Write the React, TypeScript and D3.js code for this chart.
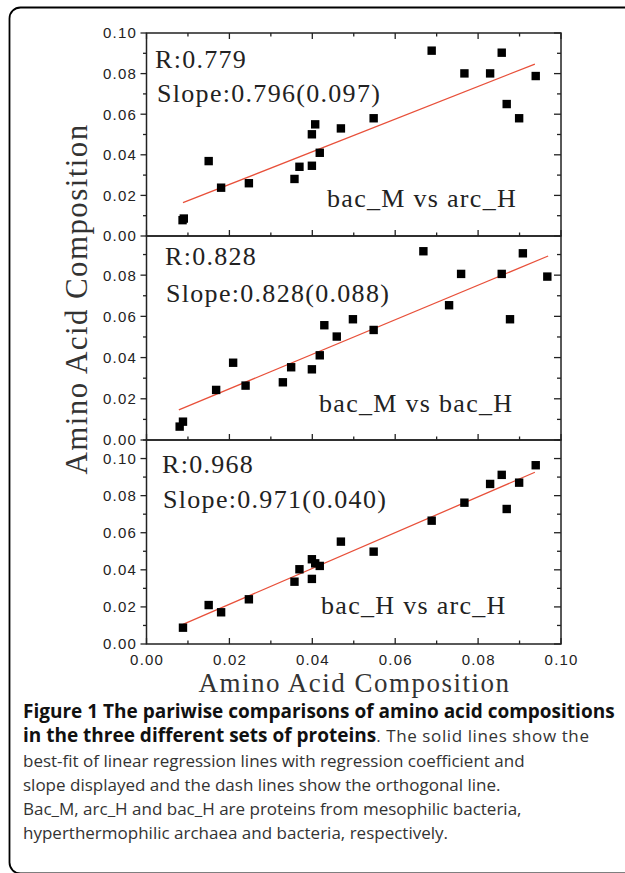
import React from "react";
import * as d3 from "d3";

// ---------- data ----------
const xTickValues = [0, 0.02, 0.04, 0.06, 0.08, 0.1];
const xTickLabels = ["0.00", "0.02", "0.04", "0.06", "0.08", "0.10"];
const xMinorValues = [0.01, 0.03, 0.05, 0.07, 0.09];

// Panel 1: bac_M vs arc_H
const p1X = [0.0087, 0.009, 0.015, 0.018, 0.0247, 0.0357, 0.0369, 0.0399, 0.0399, 0.0407, 0.0418, 0.0469, 0.0548, 0.0688, 0.0767, 0.0829, 0.0857, 0.0869, 0.0899, 0.0939];
const p1Y = [0.0078, 0.0086, 0.0369, 0.0238, 0.026, 0.0281, 0.0341, 0.0346, 0.0501, 0.055, 0.041, 0.053, 0.058, 0.0913, 0.0801, 0.0801, 0.0903, 0.065, 0.058, 0.0788];
const p1FitX = [0.0088, 0.0937];
const p1FitY = [0.0164, 0.0847];
const p1YTicks = [0, 0.02, 0.04, 0.06, 0.08, 0.1];
const p1YLabels = ["0.00", "0.02", "0.04", "0.06", "0.08", "0.10"];

// Panel 2: bac_M vs bac_H
const p2X = [0.008, 0.0088, 0.0168, 0.0209, 0.0239, 0.0329, 0.0349, 0.0399, 0.0418, 0.0429, 0.0459, 0.0498, 0.0548, 0.0668, 0.073, 0.0759, 0.0857, 0.0877, 0.0908, 0.0967];
const p2Y = [0.0065, 0.0089, 0.0243, 0.0375, 0.0264, 0.028, 0.0353, 0.0343, 0.0411, 0.0557, 0.0502, 0.0586, 0.0534, 0.0916, 0.0654, 0.0806, 0.0806, 0.0586, 0.0906, 0.0793];
const p2FitX = [0.0078, 0.0969];
const p2FitY = [0.0146, 0.0893];
const p2YTicks = [0, 0.02, 0.04, 0.06, 0.08];
const p2YLabels = ["0.00", "0.02", "0.04", "0.06", "0.08"];

// Panel 3: bac_H vs arc_H
const p3X = [0.0088, 0.015, 0.018, 0.0247, 0.0357, 0.0369, 0.0399, 0.0399, 0.0407, 0.0418, 0.0469, 0.0548, 0.0688, 0.0767, 0.0829, 0.0857, 0.0869, 0.0899, 0.0939];
const p3Y = [0.0088, 0.021, 0.0171, 0.0241, 0.0336, 0.0403, 0.0457, 0.0351, 0.0435, 0.0421, 0.0552, 0.0498, 0.0665, 0.0762, 0.0863, 0.0912, 0.0728, 0.087, 0.0964];
const p3FitX = [0.0088, 0.0937];
const p3FitY = [0.0106, 0.0926];
const p3YTicks = [0, 0.02, 0.04, 0.06, 0.08, 0.1];
const p3YLabels = ["0.00", "0.02", "0.04", "0.06", "0.08", "0.10"];

const rTexts = ["R:0.779", "R:0.828", "R:0.968"];
const slopeTexts = ["Slope:0.796(0.097)", "Slope:0.828(0.088)", "Slope:0.971(0.040)"];
const pairLabels = ["bac_M vs arc_H", "bac_M vs bac_H", "bac_H vs arc_H"];
const yMaxes = [0.1, 0.099, 0.11];

const axisTitle = "Amino Acid Composition";

// ---------- layout ----------
const W = 625;
const H = 873;
const LEFT = 146.5;
const RIGHT = 561;
const TOPS = [33, 236, 440];
const BOTTOMS = [236, 440, 644];
const TEXT_POS = [
  { rx: 155, ry: 68, sx: 157, sy: 102, lx: 327, ly: 207 },
  { rx: 165, ry: 265, sx: 166, sy: 302, lx: 319, ly: 412 },
  { rx: 162, ry: 473, sx: 163, sy: 508, lx: 321, ly: 614 },
];

const panels = [
  { xs: p1X, ys: p1Y, fx: p1FitX, fy: p1FitY, yt: p1YTicks, yl: p1YLabels },
  { xs: p2X, ys: p2Y, fx: p2FitX, fy: p2FitY, yt: p2YTicks, yl: p2YLabels },
  { xs: p3X, ys: p3Y, fx: p3FitX, fy: p3FitY, yt: p3YTicks, yl: p3YLabels },
];

const serif = "'Liberation Serif', 'Times New Roman', serif";
const sans = "'Liberation Sans', Arial, sans-serif";
const cap = "'Open Sans', 'Noto Sans', sans-serif";

const x = d3.scaleLinear().domain([0, 0.1]).range([LEFT, RIGHT]);

function Panel({ i }: { i: number }) {
  const p = panels[i];
  const y = d3.scaleLinear().domain([0, yMaxes[i]]).range([BOTTOMS[i], TOPS[i]]);
  const line = d3
    .line<number>()
    .x((d) => x(d))
    .y((_, k) => y(p.fy[k]));
  const yMinor = d3.range(0.01, yMaxes[i] + 1e-9, 0.02);
  const yMajor = d3.range(0, yMaxes[i] + 1e-9, 0.02);
  const t = TEXT_POS[i];
  const axisColor = "#222";
  return (
    <g>
      <rect x={LEFT} y={TOPS[i]} width={RIGHT - LEFT} height={BOTTOMS[i] - TOPS[i]} fill="none" stroke={axisColor} strokeWidth={1.5} />
      {yMajor.map((v, k) => (
        <line key={"lm" + k} x1={LEFT - 6} x2={LEFT} y1={y(v)} y2={y(v)} stroke={axisColor} strokeWidth={1.3} />
      ))}
      {yMinor.map((v, k) => (
        <line key={"ln" + k} x1={LEFT - 3.5} x2={LEFT} y1={y(v)} y2={y(v)} stroke={axisColor} strokeWidth={1.3} />
      ))}
      {yMajor.map((v, k) => (
        <line key={"rm" + k} x1={RIGHT - 7} x2={RIGHT} y1={y(v)} y2={y(v)} stroke={axisColor} strokeWidth={1.3} />
      ))}
      {yMinor.map((v, k) => (
        <line key={"rn" + k} x1={RIGHT - 4} x2={RIGHT} y1={y(v)} y2={y(v)} stroke={axisColor} strokeWidth={1.3} />
      ))}
      {xTickValues.map((v, k) => (
        <line key={"bm" + k} x1={x(v)} x2={x(v)} y1={BOTTOMS[i] - 6} y2={BOTTOMS[i]} stroke={axisColor} strokeWidth={1.3} />
      ))}
      {xMinorValues.map((v, k) => (
        <line key={"bn" + k} x1={x(v)} x2={x(v)} y1={BOTTOMS[i] - 3.5} y2={BOTTOMS[i]} stroke={axisColor} strokeWidth={1.3} />
      ))}
      {i === 0 &&
        xTickValues.map((v, k) => (
          <line key={"tm" + k} x1={x(v)} x2={x(v)} y1={TOPS[i]} y2={TOPS[i] + 6} stroke={axisColor} strokeWidth={1.3} />
        ))}
      {i === 0 &&
        xMinorValues.map((v, k) => (
          <line key={"tn" + k} x1={x(v)} x2={x(v)} y1={TOPS[i]} y2={TOPS[i] + 3.5} stroke={axisColor} strokeWidth={1.3} />
        ))}
      {p.yt.map((v, k) => (
        <text key={"yl" + k} x={137} y={y(v)} dy="0.36em" textAnchor="end" fontFamily={sans} fontSize={15} letterSpacing={1.2} fill="#222">
          {p.yl[k]}
        </text>
      ))}
      <path d={line(p.fx) || ""} fill="none" stroke="#e8503a" strokeWidth={1.3} />
      {p.xs.map((xv, k) => (
        <rect key={"pt" + k} x={x(xv) - 4.2} y={y(p.ys[k]) - 4.2} width={8.4} height={8.4} fill="#000" />
      ))}
      <text x={t.rx} y={t.ry} fontFamily={serif} fontSize={26} letterSpacing={1.3} fill="#222">{rTexts[i]}</text>
      <text x={t.sx} y={t.sy} fontFamily={serif} fontSize={26} letterSpacing={1.3} fill="#222">{slopeTexts[i]}</text>
      <text x={t.lx} y={t.ly} fontFamily={serif} fontSize={26} letterSpacing={1.3} fill="#222">{pairLabels[i]}</text>
    </g>
  );
}

export default function App() {
  return (
    <svg width={W} height={H} viewBox={`0 0 ${W} ${H}`} style={{ position: "absolute", left: 0, top: 0, background: "#fff" }}>
      <rect x={0} y={0} width={W} height={H} fill="#fff" />
      <rect x={9.5} y={7.5} width={700} height={866} rx={11} ry={11} fill="none" stroke="#000" strokeWidth={1.8} />
      {[0, 1, 2].map((i) => (
        <Panel key={i} i={i} />
      ))}
      {xTickValues.map((v, k) => (
        <text key={"xl" + k} x={x(v) + 0.6} y={665} textAnchor="middle" fontFamily={sans} fontSize={15} letterSpacing={1.2} fill="#222">
          {xTickLabels[k]}
        </text>
      ))}
      <text x={(LEFT + RIGHT) / 2 + 0.7} y={692} textAnchor="middle" fontFamily={serif} fontSize={27} letterSpacing={1.5} fill="#333">
        {axisTitle}
      </text>
      <text transform={`translate(87, 299) rotate(-90)`} textAnchor="middle" fontFamily={serif} fontSize={31} letterSpacing={1.4} fill="#333">
        {axisTitle}
      </text>
      <g fontFamily={cap} fontSize={17} fill="#333">
        <text x={23} y={718}>
          <tspan fontWeight="bold" fontSize={19} fill="#111">Figure 1 The pariwise comparisons of amino acid compositions</tspan>
        </text>
        <text x={23} y={742}>
          <tspan fontWeight="bold" fontSize={19} fill="#111">in the three different sets of proteins</tspan>
          <tspan letterSpacing={0.6}>. The solid lines show the</tspan>
        </text>
        <text x={23} y={767}>best-fit of linear regression lines with regression coefficient and</text>
        <text x={23} y={791}>slope displayed and the dash lines show the orthogonal line.</text>
        <text x={23} y={815}>Bac_M, arc_H and bac_H are proteins from mesophilic bacteria,</text>
        <text x={23} y={839}>hyperthermophilic archaea and bacteria, respectively.</text>
      </g>
    </svg>
  );
}
